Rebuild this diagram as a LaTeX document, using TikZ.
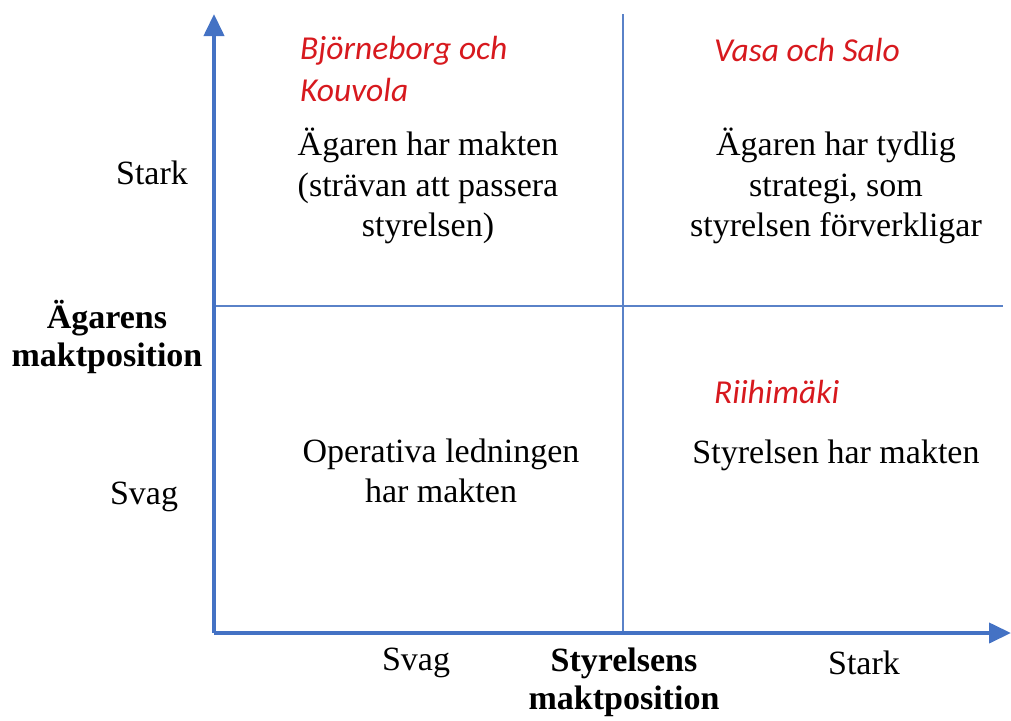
\documentclass[tikz,border=0pt]{standalone}
\usepackage{fontspec}
\setmainfont{Liberation Serif}
\newfontfamily\redfont{Carlito}
\usetikzlibrary{arrows.meta}
\definecolor{axisblue}{RGB}{68,114,196}
\definecolor{divblue}{RGB}{90,130,200}
\definecolor{labelred}{RGB}{215,25,30}
\begin{document}
\begin{tikzpicture}[x=1pt,y=-1pt,
  body/.style={align=center,inner sep=0pt,font=\fontsize{34}{40.5}\selectfont},
  axislabel/.style={align=center,inner sep=0pt,font=\fontsize{34}{38}\selectfont\bfseries},
  city/.style={align=left,inner sep=0pt,text=labelred,font=\fontsize{33.5}{42}\selectfont\redfont\itshape},
  axisline/.style={draw=axisblue,line width=4pt,-{Triangle[width=20pt,length=22pt]}},
  divider/.style={draw=divblue,line width=1.4pt}]
\useasboundingbox (0,0) rectangle (1011,720);
\coordinate (origin) at (214,633);
\coordinate (ytop) at (214,14);
\coordinate (xend) at (1011,633);
\coordinate (vtop) at (623,14);
\coordinate (vbot) at (623,633);
\coordinate (hleft) at (214,306);
\coordinate (hright) at (1003,306);
\draw[divider] (vtop) -- (vbot);
\draw[divider] (hleft) -- (hright);
\draw[axisline] (origin) -- (ytop);
\draw[axisline] (origin) -- (xend);
% left axis labels
\node[body] (ystark) at (152,173) {Stark};
\node[body] (ysvag) at (144,497) {Svag};
\node[axislabel] (ytitle) at (107,337) {Ägarens\\maktposition};
% bottom axis labels
\node[body] (xsvag) at (416,663) {Svag};
\node[body] (xstark) at (864,663) {Stark};
\node[axislabel] (xtitle) at (624,682) {Styrelsens\\maktposition};
% red city labels
\node[city,anchor=west] (c1) at (300,69) {Björneborg och\\Kouvola};
\node[city,anchor=west] (c2) at (714,50) {Vasa och Salo};
\node[city,anchor=west] (c3) at (714,392) {Riihimäki};
% quadrant texts
\node[body] (q1) at (428,186) {Ägaren har makten\\(strävan att passera\\styrelsen)};
\node[body] (q2) at (836,186) {Ägaren har tydlig\\strategi, som\\styrelsen förverkligar};
\node[body] (q3) at (441,471) {Operativa ledningen\\har makten};
\node[body] (q4) at (836,455) {Styrelsen har makten};
\end{tikzpicture}
\end{document}
